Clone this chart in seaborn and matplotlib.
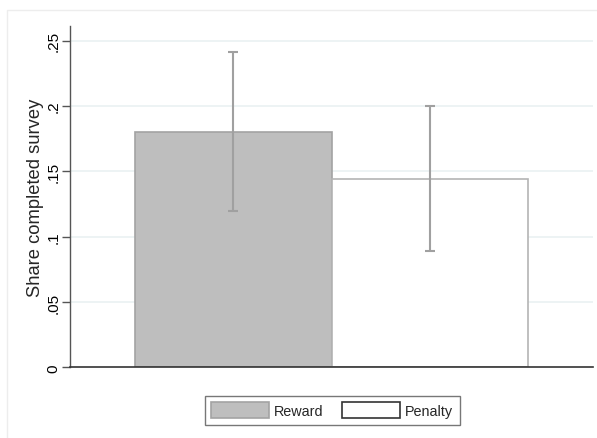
import matplotlib
matplotlib.use("Agg")
import matplotlib.pyplot as plt
from matplotlib.patches import Patch, Rectangle
import numpy as np
import pandas as pd
import seaborn as sns

# Survey completion share by treatment arm, with 95% confidence bounds
groups = ["Reward", "Penalty"]
share = [0.1804, 0.1442]
ci_low = [0.1194, 0.0893]
ci_high = [0.2414, 0.1996]

ytick_values = [0, 0.05, 0.10, 0.15, 0.20, 0.25]
ytick_labels = ["0", ".05", ".1", ".15", ".2", ".25"]

fill_colors = ["#bebebe", "#ffffff"]
edge_colors = ["#a3a3a3", "#b4b4b4"]

sns.set_theme(style="white")
plt.rcParams["font.family"] = ["Liberation Sans", "DejaVu Sans"]

df = pd.DataFrame({"group": groups, "share": share})

fig = plt.figure(figsize=(5.97, 4.39), dpi=100)
fig.patch.set_facecolor("white")
ax = fig.add_axes([70 / 597, 1 - 368.3 / 439, (593 - 70) / 597, (368.3 - 26.7) / 439])

sns.barplot(data=df, x="group", y="share", hue="group", palette=fill_colors,
            width=1.0, errorbar=None, legend=False, ax=ax, zorder=2)
for bar, ec in zip(ax.patches, edge_colors):
    bar.set_edgecolor(ec)
    bar.set_linewidth(1.2)

xpos = np.arange(len(groups))
mid = np.array(share)
yerr = np.vstack([mid - np.array(ci_low), np.array(ci_high) - mid])
ax.errorbar(xpos, mid, yerr=yerr, fmt="none", ecolor="#a0a0a0",
            elinewidth=1.5, capsize=3.6, capthick=1.5, zorder=3)

ax.set_xlim(-0.829, 1.829)
ax.set_ylim(0, 0.2614)
ax.set_yticks(ytick_values)
ax.set_yticklabels(ytick_labels, rotation=90, va="center", fontsize=11)
ax.set_xticks([])
ax.set_xlabel("")
ax.set_ylabel("Share completed survey", fontsize=13.2)
ax.yaxis.set_label_coords(-0.050, 0.5)

for v in ytick_values[1:]:
    ax.axhline(v, color="#eaf1f2", linewidth=1.2, zorder=0)

ax.tick_params(axis="y", left=True, length=6, width=1, color="#555555",
               pad=1.0, labelcolor="black")
for side in ["top", "right"]:
    ax.spines[side].set_visible(False)
ax.spines["left"].set_color("#555555")
ax.spines["left"].set_linewidth(1.0)
ax.spines["bottom"].set_color("#333333")
ax.spines["bottom"].set_linewidth(1.2)
ax.set_facecolor("white")

# faint outer border of the graph region
fig.patches.append(Rectangle((7 / 597, -0.05), 1.1, 1 - 11 / 439 + 0.05,
                             transform=fig.transFigure, fill=False,
                             edgecolor="#ededed", linewidth=1.0))

handles = [Patch(facecolor=fill_colors[0], edgecolor="#a3a3a3", linewidth=1.2),
           Patch(facecolor=fill_colors[1], edgecolor="#333333", linewidth=1.2)]
leg = fig.legend(handles, groups, loc="center", ncol=2,
                 bbox_to_anchor=(332.3 / 597, 1 - 411.3 / 439),
                 fontsize=10.4, frameon=True, fancybox=False,
                 handlelength=4.0, handleheight=1.3, handletextpad=0.35,
                 columnspacing=1.3, borderpad=0.45, borderaxespad=0)
leg.get_frame().set_edgecolor("#555555")
leg.get_frame().set_linewidth(1.0)

fig.savefig("out.png", dpi=100, facecolor="white")
